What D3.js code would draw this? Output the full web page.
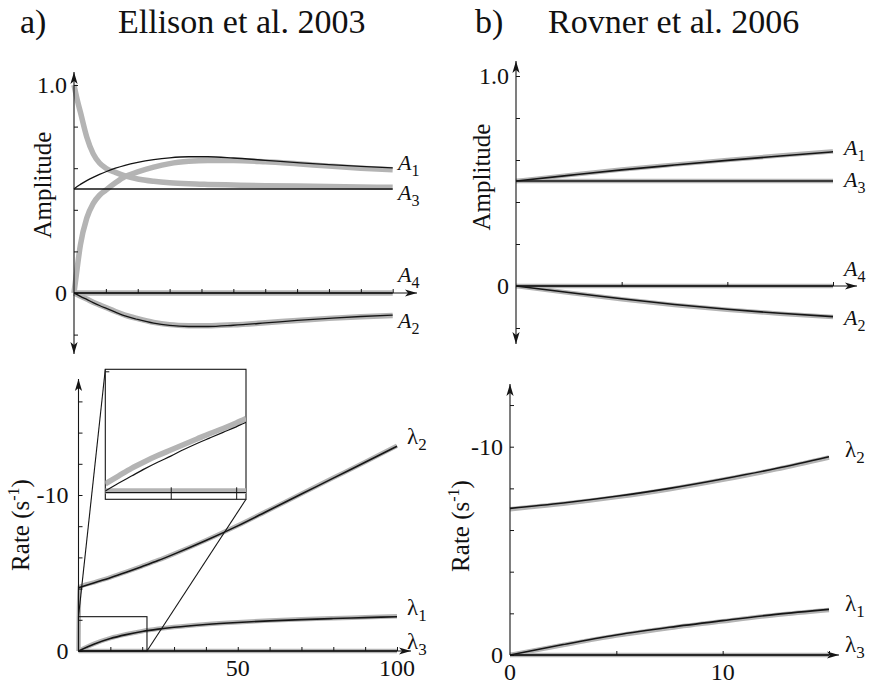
<!DOCTYPE html>
<html>
<head>
<meta charset="utf-8">
<script src="https://cdn.jsdelivr.net/npm/d3@7"></script>
<style>
  body { margin: 0; background: #fff; }
  text { font-family: "Liberation Serif", "DejaVu Serif", serif; fill: #111; }
</style>
</head>
<body>
<div id="chart"></div>
<script>
// ---------- data: Ellison et al. 2003 ----------
var ellT = [0, 1, 2, 4, 6, 8, 10, 13, 16, 20, 25, 30, 36, 42, 50, 60, 70, 80, 90, 100];
var ellConstT = [0, 100];
var ellA1Model = [0.5, 0.512, 0.522, 0.54, 0.556, 0.57, 0.583, 0.6, 0.614, 0.628, 0.641, 0.65, 0.655, 0.655, 0.649, 0.638, 0.627, 0.617, 0.609, 0.602];
var ellA1Data  = [0, 0.12, 0.23, 0.36, 0.43, 0.47, 0.495, 0.53, 0.56, 0.582, 0.605, 0.622, 0.633, 0.637, 0.637, 0.631, 0.621, 0.61, 0.6, 0.592];
var ellA3Model = [0.5, 0.5];
var ellA3Data  = [1.0, 0.93, 0.87, 0.75, 0.67, 0.625, 0.6, 0.58, 0.563, 0.548, 0.537, 0.53, 0.525, 0.522, 0.519, 0.516, 0.514, 0.512, 0.51, 0.508];
var ellA2Model = [0, -0.008, -0.016, -0.031, -0.046, -0.06, -0.073, -0.092, -0.11, -0.127, -0.145, -0.156, -0.161, -0.161, -0.155, -0.144, -0.132, -0.122, -0.113, -0.106];
var ellA2Data  = [0, -0.007, -0.015, -0.029, -0.044, -0.057, -0.07, -0.089, -0.106, -0.123, -0.141, -0.152, -0.157, -0.158, -0.153, -0.143, -0.132, -0.122, -0.114, -0.108];
var ellA4 = [0, 0];

var ellRateT = [0, 5, 10, 15, 20, 25, 30, 40, 50, 60, 70, 80, 90, 100];
var ellRateDataT = [0, 0.2, 5, 10, 15, 20, 25, 30, 40, 50, 60, 70, 80, 90, 100];
var ellL2Model = [-4.06, -4.38, -4.7, -5.05, -5.42, -5.8, -6.21, -7.08, -8.02, -9.04, -10.06, -11.08, -12.1, -13.12];
var ellL2Data  = [0, -4.08, -4.4, -4.72, -5.07, -5.44, -5.82, -6.23, -7.1, -8.04, -9.06, -10.08, -11.1, -12.12, -13.15];
var ellL1Model = [0, -0.45, -0.8, -1.05, -1.25, -1.4, -1.52, -1.7, -1.83, -1.93, -2.01, -2.08, -2.14, -2.2];
var ellL1Data  = [0, -0.47, -0.82, -1.07, -1.27, -1.42, -1.54, -1.72, -1.85, -1.95, -2.03, -2.1, -2.16, -2.22];
var ellL3 = [0, 0];

// inset (zoom of the first ~20 s)
var insetT = [0, 2, 4, 6, 8, 10, 12, 14, 16, 18, 20, 21.5];
var insetL1Model = [0, -0.14, -0.27, -0.4, -0.52, -0.63, -0.75, -0.86, -0.96, -1.06, -1.16, -1.24];
var insetL1Data  = [-0.13, -0.27, -0.41, -0.53, -0.64, -0.74, -0.84, -0.94, -1.04, -1.13, -1.23, -1.31];
var insetConstT = [0, 21.5];
var insetL3 = [0, 0];

// ---------- data: Rovner et al. 2006 ----------
var rovT = [0, 2.5, 5, 7.5, 10, 12.5, 15];
var rovConstT = [0, 15];
var rovA1Model = [0.5, 0.527, 0.553, 0.576, 0.598, 0.619, 0.639];
var rovA1Data  = [0.5, 0.528, 0.555, 0.578, 0.6, 0.621, 0.641];
var rovA3 = [0.5, 0.5];
var rovA4 = [0, 0];
var rovA2Model = [0, -0.031, -0.061, -0.088, -0.111, -0.13, -0.146];
var rovA2Data  = [0, -0.032, -0.063, -0.09, -0.113, -0.132, -0.148];
var rovL2Model = [-7.04, -7.3, -7.62, -8.0, -8.45, -8.95, -9.52];
var rovL2Data  = [-7.0, -7.26, -7.58, -7.96, -8.41, -8.91, -9.48];
var rovL1Model = [0, -0.5, -0.96, -1.33, -1.65, -1.95, -2.19];
var rovL1Data  = [0, -0.48, -0.93, -1.3, -1.62, -1.92, -2.16];
var rovL3 = [0, 0];

// ticks
var ampTicks = [-0.2, 0, 0.2, 0.4, 0.6, 0.8, 1.0];
var ellRateTicks = [0, -2, -4, -6, -8, -10, -12, -14, -16];
var rovRateTicks = [0, -2, -4, -6, -8, -10, -12];
var ellXTicks = [10, 20, 30, 40, 50, 60, 70, 80, 90, 100];
var rovXTicks = [5, 10, 15];
var insetXTicks = [10, 20];

var width = 874, height = 688;
var GRAY = '#b4b4b4', BLACK = '#151515';
var FONT = '"Liberation Serif", "DejaVu Serif", serif';

var svg = d3.select('#chart').append('svg')
  .attr('width', width)
  .attr('height', height)
  .attr('font-family', FONT);

svg.append('rect').attr('width', width).attr('height', height).attr('fill', '#fff');

function arrow(g, x, y, dir) {
  // filled arrow head, tip at (x,y)
  var L = 12, W = 3.6, p;
  if (dir === 'up') p = [[x, y], [x - W, y + L], [x, y + L - 3], [x + W, y + L]];
  if (dir === 'down') p = [[x, y], [x - W, y - L], [x, y - L + 3], [x + W, y - L]];
  if (dir === 'right') p = [[x, y], [x - L, y - W], [x - L + 3, y], [x - L, y + W]];
  g.append('path').attr('d', 'M' + p.join('L') + 'Z').attr('fill', BLACK);
}

function drawPanel(cfg) {
  var x = d3.scaleLinear().domain(cfg.xDomain).range(cfg.xRange);
  var y = d3.scaleLinear().domain(cfg.yDomain).range(cfg.yRange);
  var g = svg.append('g');

  var line = d3.line()
    .x(function(d) { return x(d[0]); })
    .y(function(d) { return y(d[1]); })
    .curve(d3.curveMonotoneX);

  // gray (data) curves underneath
  cfg.series.forEach(function(s) {
    g.append('path')
      .attr('d', line(d3.zip(s.t, s.data)))
      .attr('fill', 'none')
      .attr('stroke', GRAY)
      .attr('stroke-width', cfg.grayWidth)
      .attr('stroke-linecap', 'butt');
  });

  // axes
  var x0 = x(0), y0 = y(0);
  g.append('line')
    .attr('x1', x0).attr('x2', x0)
    .attr('y1', cfg.yAxisBottom).attr('y2', cfg.yAxisTop)
    .attr('stroke', BLACK).attr('stroke-width', 1.1);
  arrow(g, x0, cfg.yAxisTop, 'up');
  if (cfg.downArrow) arrow(g, x0, cfg.yAxisBottom, 'down');

  g.append('line')
    .attr('x1', x0).attr('x2', cfg.xAxisEnd)
    .attr('y1', y0).attr('y2', y0)
    .attr('stroke', BLACK).attr('stroke-width', 1.1);
  arrow(g, cfg.xAxisEnd, y0, 'right');

  var yAxis = g.append('g')
    .attr('transform', 'translate(' + x0 + ',0)')
    .call(d3.axisRight(y).tickValues(cfg.yTicks).tickSize(4).tickFormat(''));
  yAxis.select('.domain').remove();
  yAxis.selectAll('line').attr('stroke', BLACK);

  var xAxis = g.append('g')
    .attr('transform', 'translate(0,' + y0 + ')')
    .call(d3.axisTop(x).tickValues(cfg.xTicks).tickSize(4).tickFormat(''));
  xAxis.select('.domain').remove();
  xAxis.selectAll('line').attr('stroke', BLACK);

  // black (model) curves on top
  cfg.series.forEach(function(s) {
    g.append('path')
      .attr('d', line(d3.zip(s.mt || s.t, s.model)))
      .attr('fill', 'none')
      .attr('stroke', BLACK)
      .attr('stroke-width', cfg.blackWidth);
  });

  // y tick labels
  cfg.yLabels.forEach(function(l) {
    g.append('text')
      .attr('x', x0 - cfg.yLabelGap)
      .attr('y', y(l.v))
      .attr('dy', '0.35em')
      .attr('text-anchor', 'end')
      .attr('font-family', FONT)
      .style('font-size', '24px')
      .text(l.text);
  });

  // x tick labels
  (cfg.xLabels || []).forEach(function(v) {
    g.append('text')
      .attr('x', x(v))
      .attr('y', y0 + cfg.xLabelDy)
      .attr('text-anchor', 'middle')
      .attr('font-family', FONT)
      .style('font-size', '24px')
      .text(v);
  });

  // curve labels
  cfg.series.forEach(function(s) {
    var vals = s.model;
    var t = g.append('text')
      .attr('x', cfg.labelX)
      .attr('y', y(vals[vals.length - 1]) + s.dy)
      .attr('font-family', FONT)
      .style('font-size', cfg.labelSize + 'px');
    t.append('tspan').style('font-style', cfg.italic ? 'italic' : 'normal').text(s.sym);
    t.append('tspan').attr('dy', 6).style('font-size', (cfg.labelSize - 6) + 'px').text(s.sub);
  });

  // y axis title
  var ty = g.append('text')
    .attr('transform', 'translate(' + cfg.titleX + ',' + cfg.titleY + ') rotate(-90)')
    .attr('text-anchor', 'middle')
    .attr('font-family', FONT)
    .style('font-size', '25px');
  if (cfg.rate) {
    ty.append('tspan').text('Rate (s');
    ty.append('tspan').attr('dy', -10).style('font-size', '16px').text('-1');
    ty.append('tspan').attr('dy', 10).text(')');
  } else {
    ty.text('Amplitude');
  }

  return { x: x, y: y, g: g };
}

// ---------- panel a, top ----------
drawPanel({
  xDomain: [0, 100], xRange: [74, 392.7],
  yDomain: [0, 1], yRange: [293, 85],
  yAxisTop: 72, yAxisBottom: 354, downArrow: true, xAxisEnd: 417,
  yTicks: ampTicks, xTicks: ellXTicks,
  grayWidth: 5.5, blackWidth: 1.3,
  yLabels: [{ v: 1, text: '1.0' }, { v: 0, text: '0' }], yLabelGap: 7,
  labelX: 398, labelSize: 22, italic: true,
  titleX: 51, titleY: 185,
  series: [
    { t: ellT, mt: ellT, data: ellA1Data, model: ellA1Model, sym: 'A', sub: '1', dy: 2 },
    { t: ellT, mt: ellConstT, data: ellA3Data, model: ellA3Model, sym: 'A', sub: '3', dy: 11 },
    { t: ellConstT, data: ellA4, model: ellA4, sym: 'A', sub: '4', dy: -11 },
    { t: ellT, data: ellA2Data, model: ellA2Model, sym: 'A', sub: '2', dy: 13 }
  ]
});

// ---------- panel a, bottom ----------
var ellBottom = drawPanel({
  xDomain: [0, 100], xRange: [78.5, 397],
  yDomain: [0, -10], yRange: [651, 495],
  yAxisTop: 379, yAxisBottom: 651, downArrow: false, xAxisEnd: 411,
  yTicks: ellRateTicks, xTicks: ellXTicks,
  grayWidth: 4.5, blackWidth: 1.6,
  yLabels: [{ v: -10, text: '-10' }, { v: 0, text: '0' }], yLabelGap: 10,
  xLabels: [50, 100], xLabelDy: 25,
  labelX: 407, labelSize: 23, italic: false,
  titleX: 29, titleY: 525, rate: true,
  series: [
    { t: ellRateDataT, mt: ellRateT, data: ellL2Data, model: ellL2Model, sym: 'λ', sub: '2', dy: -2 },
    { t: ellRateT, data: ellL1Data, model: ellL1Model, sym: 'λ', sub: '1', dy: -2 },
    { t: ellConstT, data: ellL3, model: ellL3, sym: 'λ', sub: '3', dy: -2 }
  ]
});

// zoom box + inset
(function() {
  var x = ellBottom.x, y = ellBottom.y, g = ellBottom.g;
  var box = { x0: 0, x1: 21.5, y0: 0, y1: -2.2 };
  var ins = { left: 105.3, top: 369.3, right: 246, bottom: 499.3 };

  g.append('rect')
    .attr('x', x(box.x0)).attr('y', y(box.y1))
    .attr('width', x(box.x1) - x(box.x0)).attr('height', y(box.y0) - y(box.y1))
    .attr('fill', 'none').attr('stroke', BLACK).attr('stroke-width', 1.1);

  g.append('line')
    .attr('x1', ins.left).attr('y1', ins.top)
    .attr('x2', x(box.x0)).attr('y2', y(box.y1))
    .attr('stroke', BLACK).attr('stroke-width', 1.1);
  g.append('line')
    .attr('x1', ins.right).attr('y1', ins.bottom)
    .attr('x2', x(box.x1)).attr('y2', y(box.y0))
    .attr('stroke', BLACK).attr('stroke-width', 1.1);

  var ix = d3.scaleLinear().domain([0, 21.5]).range([ins.left, ins.right]);
  var iy = d3.scaleLinear().domain([0.15, -2.2]).range([ins.bottom, ins.top]);

  g.append('rect')
    .attr('x', ins.left).attr('y', ins.top)
    .attr('width', ins.right - ins.left).attr('height', ins.bottom - ins.top)
    .attr('fill', '#fff').attr('stroke', BLACK).attr('stroke-width', 1.1);

  var il = d3.line()
    .x(function(d) { return ix(d[0]); })
    .y(function(d) { return iy(d[1]); })
    .curve(d3.curveMonotoneX);

  g.append('clipPath').attr('id', 'insetClip')
    .append('rect')
    .attr('x', ins.left).attr('y', ins.top)
    .attr('width', ins.right - ins.left).attr('height', ins.bottom - ins.top);

  var ig = g.append('g').attr('clip-path', 'url(#insetClip)');

  ig.append('path').attr('d', il(d3.zip(insetT, insetL1Data)))
    .attr('fill', 'none').attr('stroke', GRAY).attr('stroke-width', 5.5);
  ig.append('path').attr('d', il(d3.zip(insetConstT, insetL3)))
    .attr('fill', 'none').attr('stroke', GRAY).attr('stroke-width', 5.5);
  ig.append('path').attr('d', il(d3.zip(insetT, insetL1Model)))
    .attr('fill', 'none').attr('stroke', BLACK).attr('stroke-width', 1.2);
  ig.append('path').attr('d', il(d3.zip(insetConstT, insetL3)))
    .attr('fill', 'none').attr('stroke', BLACK).attr('stroke-width', 1.2)
    .attr('transform', 'translate(0,1.5)');

  var ia = g.append('g')
    .attr('transform', 'translate(0,' + ins.bottom + ')')
    .call(d3.axisTop(ix).tickValues(insetXTicks).tickSize(12).tickFormat(''));
  ia.select('.domain').remove();
  ia.selectAll('line').attr('stroke', BLACK);

  // small tick near the top of the inset's left edge
  g.append('line')
    .attr('x1', ins.left).attr('x2', ins.left + 4)
    .attr('y1', ins.top + 2.5).attr('y2', ins.top + 2.5)
    .attr('stroke', BLACK);
})();

// ---------- panel b, top ----------
drawPanel({
  xDomain: [0, 15], xRange: [516, 833],
  yDomain: [0, 1], yRange: [286, 76],
  yAxisTop: 61, yAxisBottom: 344, downArrow: true, xAxisEnd: 857,
  yTicks: ampTicks, xTicks: rovXTicks,
  grayWidth: 4.5, blackWidth: 1.6,
  yLabels: [{ v: 1, text: '1.0' }, { v: 0, text: '0' }], yLabelGap: 7,
  labelX: 844, labelSize: 22, italic: true,
  titleX: 490, titleY: 177,
  series: [
    { t: rovT, data: rovA1Data, model: rovA1Model, sym: 'A', sub: '1', dy: 3 },
    { t: rovConstT, data: rovA3, model: rovA3, sym: 'A', sub: '3', dy: 6 },
    { t: rovConstT, data: rovA4, model: rovA4, sym: 'A', sub: '4', dy: -10 },
    { t: rovT, data: rovA2Data, model: rovA2Model, sym: 'A', sub: '2', dy: 8 }
  ]
});

// ---------- panel b, bottom ----------
drawPanel({
  xDomain: [0, 15], xRange: [510, 829],
  yDomain: [0, -10], yRange: [655, 446.7],
  yAxisTop: 384, yAxisBottom: 655, downArrow: false, xAxisEnd: 839,
  yTicks: rovRateTicks, xTicks: rovXTicks,
  grayWidth: 4.5, blackWidth: 1.6,
  yLabels: [{ v: -10, text: '-10' }, { v: 0, text: '0' }], yLabelGap: 7,
  xLabels: [0, 10], xLabelDy: 25,
  labelX: 845, labelSize: 23, italic: false,
  titleX: 469, titleY: 526, rate: true,
  series: [
    { t: rovT, data: rovL2Data, model: rovL2Model, sym: 'λ', sub: '2', dy: 0 },
    { t: rovT, data: rovL1Data, model: rovL1Model, sym: 'λ', sub: '1', dy: 2 },
    { t: rovConstT, data: rovL3, model: rovL3, sym: 'λ', sub: '3', dy: -3 }
  ]
});

// ---------- panel headings ----------
svg.append('text').attr('x', 20).attr('y', 33).style('font-size', '34px').text('a)');
svg.append('text').attr('x', 118).attr('y', 33).style('font-size', '34px').text('Ellison et al. 2003');
svg.append('text').attr('x', 475).attr('y', 33).style('font-size', '34px').text('b)');
svg.append('text').attr('x', 548).attr('y', 33).style('font-size', '34px').text('Rovner et al. 2006');
</script>
</body>
</html>
